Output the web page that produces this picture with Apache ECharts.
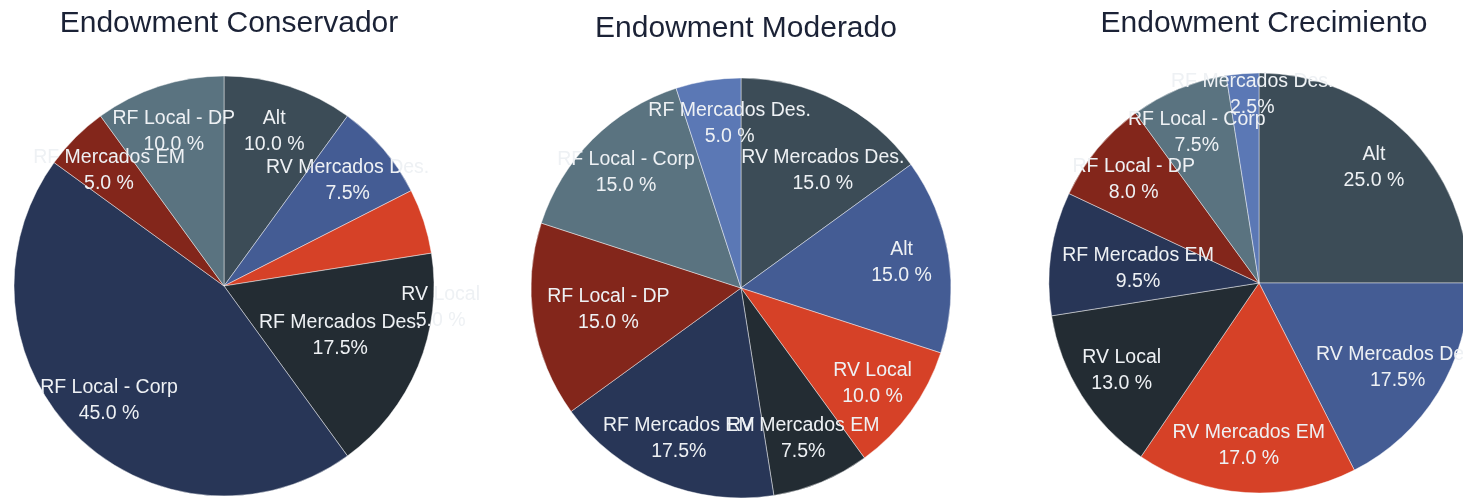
<!DOCTYPE html>
<html>
<head>
<meta charset="utf-8">
<script src="https://cdn.jsdelivr.net/npm/echarts@6/dist/echarts.min.js"></script>
<style>
html,body{margin:0;padding:0;background:#fff;}
#chart{width:1463px;height:501px;}
</style>
</head>
<body>
<div id="chart"></div>
<script>
const titles = ['Endowment Conservador', 'Endowment Moderado', 'Endowment Crecimiento'];

const categories1 = ['Alt', 'RV Mercados Des.', 'RV Local', 'RF Mercados Des.', 'RF Local - Corp', 'RF Mercados EM', 'RF Local - DP'];
const values1 = [10, 7.5, 5, 17.5, 45, 5, 10];

const categories2 = ['RV Mercados Des.', 'Alt', 'RV Local', 'RV Mercados EM', 'RF Mercados EM', 'RF Local - DP', 'RF Local - Corp', 'RF Mercados Des.'];
const values2 = [15, 15, 10, 7.5, 17.5, 15, 15, 5];

const categories3 = ['Alt', 'RV Mercados Des.', 'RV Mercados EM', 'RV Local', 'RF Mercados EM', 'RF Local - DP', 'RF Local - Corp', 'RF Mercados Des.'];
const values3 = [25, 17.5, 17, 13, 9.5, 8, 7.5, 2.5];

const palette = ['#3c4c57', '#445c94', '#d64127', '#232c33', '#283657', '#83261b', '#5a7380', '#5b78b5'];

// label nudges (styling only) to mimic the reference's best-fit label placement
const labelNudges = [
  { 'RV Local': [62, 72], 'RF Mercados Des.': [-34, -13] },
  { 'RF Local - DP': [28, -4], 'RV Mercados Des.': [8, 28], 'RF Mercados Des.': [14, -4] },
  { 'RF Mercados EM': [40, 9], 'RF Mercados Des.': [6, -26] }
];

const pies = [
  { cats: categories1, vals: values1, center: [224, 286], titleTop: 4 },
  { cats: categories2, vals: values2, center: [741, 288], titleTop: 9 },
  { cats: categories3, vals: values3, center: [1259, 283], titleTop: 4 }
];
const R = 210;

function fmtPct(v) {
  const s = v.toFixed(1);
  return s.endsWith('.5') ? s + '%' : s + ' %';
}

const title = pies.map((p, i) => ({
  text: titles[i],
  left: p.center[0],
  top: p.titleTop,
  textAlign: 'center',
  textStyle: { fontFamily: 'Liberation Sans', fontSize: 30, fontWeight: 'normal', color: '#1b2236' }
}));

const series = [];
pies.forEach((p, i) => {
  const data = p.cats.map((c, j) => ({ name: c, value: p.vals[j], itemStyle: { color: palette[j] } }));
  series.push({
    type: 'pie',
    center: p.center,
    radius: R,
    startAngle: 90,
    clockwise: true,
    silent: true,
    label: { show: false },
    labelLine: { show: false },
    itemStyle: { borderColor: 'rgba(255,255,255,0.55)', borderWidth: 0.8 },
    emphasis: { disabled: true },
    data: data
  });
  // label layer: same slices, transparent, ring chosen so labels sit near 3/4 radius
  series.push({
    type: 'pie',
    center: p.center,
    radius: [R * 0.52, R],
    startAngle: 90,
    clockwise: true,
    silent: true,
    avoidLabelOverlap: false,
    labelLayout: { hideOverlap: false },
    itemStyle: { color: 'rgba(0,0,0,0)', borderWidth: 0 },
    emphasis: { disabled: true },
    labelLine: { show: false },
    label: {
      show: true,
      position: 'inside',
      formatter: (d) => d.name + '\n' + fmtPct(d.value),
      fontFamily: 'Liberation Sans',
      fontSize: 19.5,
      lineHeight: 26,
      color: '#eef1f4',
      align: 'center'
    },
    data: p.cats.map((c, j) => {
      const item = { name: c, value: p.vals[j] };
      const nudge = labelNudges[i][c];
      if (nudge) item.label = { offset: nudge };
      return item;
    })
  });
});

const chart = echarts.init(document.getElementById('chart'), null, { renderer: 'canvas' });
chart.setOption({
  animation: false,
  backgroundColor: '#ffffff',
  title: title,
  tooltip: { show: false },
  series: series
});
</script>
</body>
</html>
